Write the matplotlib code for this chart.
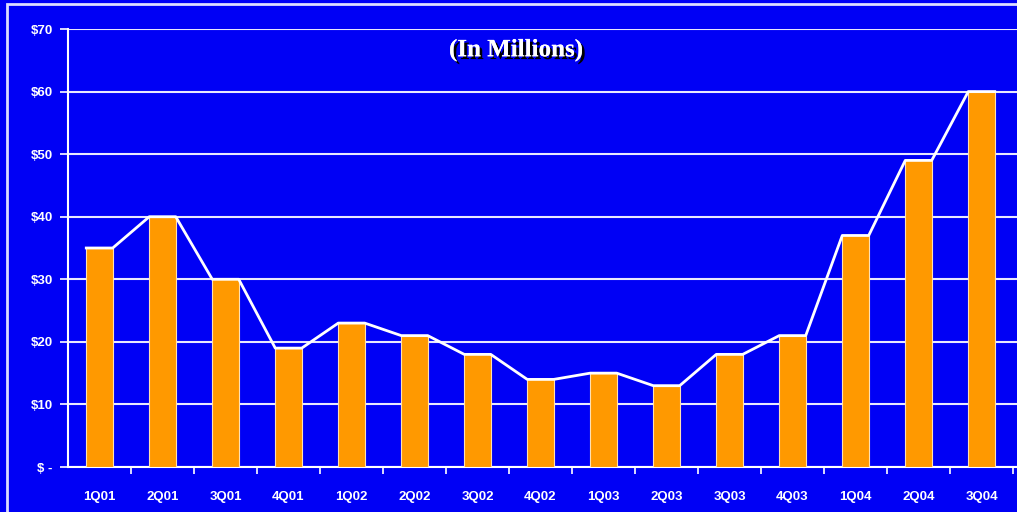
import numpy as np
import matplotlib.pyplot as plt
import matplotlib.patheffects as pe
from matplotlib.patches import Rectangle

quarters = ["1Q01", "2Q01", "3Q01", "4Q01", "1Q02", "2Q02", "3Q02", "4Q02",
            "1Q03", "2Q03", "3Q03", "4Q03", "1Q04", "2Q04", "3Q04"]
revenue = [35, 40, 30, 19, 23, 21, 18, 14, 15, 13, 18, 21, 37, 49, 60]
ytick_vals = [0, 10, 20, 30, 40, 50, 60, 70]
ytick_labels = ["$ -", "$10", "$20", "$30", "$40", "$50", "$60", "$70"]

BG = "#0000F5"
ORANGE = "#FF9900"
W = 0.42

fig = plt.figure(figsize=(10.17, 5.12), dpi=100, facecolor=BG)
ax = fig.add_axes([68 / 1017, 45 / 512, (1017 - 68) / 1017, 438 / 512])
ax.set_facecolor(BG)

x = np.arange(len(quarters))
ax.bar(x, revenue, width=W, color=ORANGE, edgecolor="#FFE0B0", linewidth=0.8, zorder=3)

# white trend line running across each bar top and joining neighbours
lx = np.ravel(np.column_stack([x - W / 2, x + W / 2]))
ly = np.repeat(revenue, 2)
ax.plot(lx, ly, color="white", lw=2, zorder=4)

ax.set_ylim(0, 70)
ax.set_xlim(-0.5, len(quarters) - 0.5 + 4 / 63)
ax.set_yticks(ytick_vals)
ax.set_yticklabels(ytick_labels)
ax.yaxis.grid(True, color="#E8E8FF", lw=1.5, zorder=1)
ax.set_axisbelow(True)

ax.set_xticks(x)
ax.set_xticklabels(quarters)
ax.set_xticks(np.arange(len(quarters)) + 0.5, minor=True)
ax.tick_params(axis="x", which="major", length=0, pad=17)
ax.tick_params(axis="x", which="minor", length=5, color="white", width=1.2)
ax.tick_params(axis="y", length=6, color="white", width=1.2, pad=5)
for lbl in ax.get_xticklabels() + ax.get_yticklabels():
    lbl.set_color("white")
    lbl.set_fontsize(9.5)
    lbl.set_fontweight("bold")
    lbl.set_family("Liberation Sans")

for side in ["top", "right"]:
    ax.spines[side].set_visible(False)
for side in ["left", "bottom"]:
    ax.spines[side].set_color("white")
    ax.spines[side].set_linewidth(1.5)

fig.text(516 / 1017, 1 - 50 / 512, "(In Millions)", ha="center", va="center",
         fontsize=18, fontweight="bold", family="Liberation Serif", color="white",
         path_effects=[pe.withSimplePatchShadow(offset=(2, -2), shadow_rgbFace="black", alpha=1),
                       pe.Normal()])

# outer frame
fig.patches.append(Rectangle((7 / 1017, -0.1), 1.2, 1.1 - 4 / 512, transform=fig.transFigure,
                             fill=False, edgecolor="#DDDDFF", lw=2))

fig.savefig("out.png", dpi=100, facecolor=BG)
